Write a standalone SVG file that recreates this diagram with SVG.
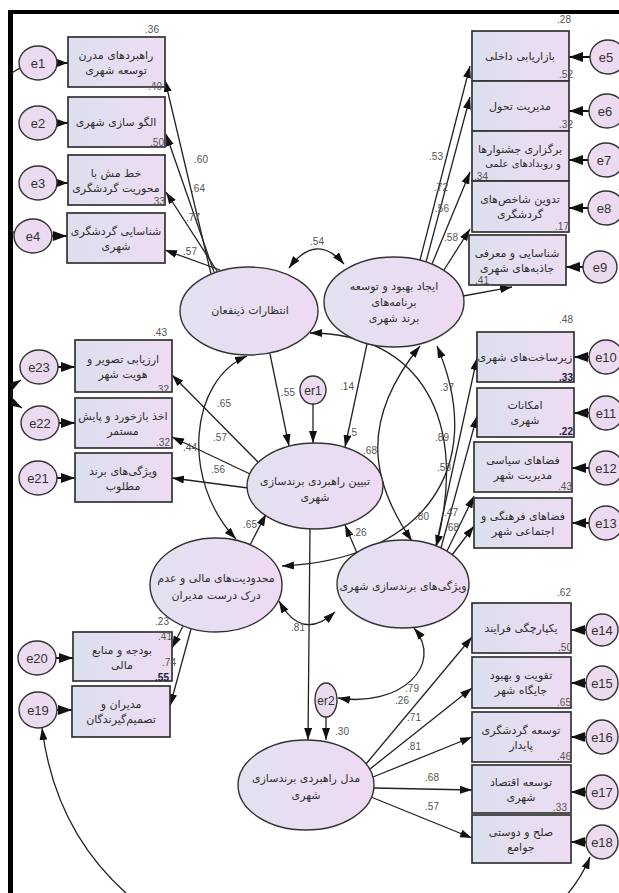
<svg xmlns="http://www.w3.org/2000/svg" width="619" height="893" viewBox="0 0 619 893">
<defs>
<linearGradient id="gb" x1="0" y1="0" x2="1" y2="0"><stop offset="0" stop-color="#dcdfee"/><stop offset="1" stop-color="#eedcf2"/></linearGradient>
<linearGradient id="ge" x1="0" y1="0" x2="1" y2="0"><stop offset="0" stop-color="#e3e1f0"/><stop offset="1" stop-color="#eedaf3"/></linearGradient>
<marker id="ah" viewBox="0 0 12 8" refX="12" refY="4" markerWidth="12" markerHeight="8" markerUnits="userSpaceOnUse" orient="auto-start-reverse"><path d="M0,0 L12,4 L0,8 z" fill="#111"/></marker>
<marker id="ah2" viewBox="0 0 14 10" refX="14" refY="5" markerWidth="14" markerHeight="10" markerUnits="userSpaceOnUse" orient="auto"><path d="M0,0 L14,5 L0,10 z" fill="#111"/></marker>
<style>
.box{fill:url(#gb);stroke:#333;stroke-width:1.7}
.lat{fill:url(#ge);stroke:#333;stroke-width:1.4}
.err{fill:#ebdaf0;stroke:#333;stroke-width:1.4}
.fa{font-family:"DejaVu Sans",sans-serif;font-size:11px;fill:#2e2e2e;text-anchor:middle}
.et{font-family:"Liberation Sans",Arial,sans-serif;font-size:13px;fill:#333;text-anchor:middle}
.num{font-family:"Liberation Sans",Arial,sans-serif;font-size:10px;fill:#555;text-anchor:middle}
.nb{font-family:"Liberation Sans",Arial,sans-serif;font-size:10px;fill:#1a1a40;font-weight:bold;text-anchor:middle}
.c{fill:none;stroke:#222;stroke-width:1.3}
.a{fill:none;stroke:#222;stroke-width:1.3;marker-end:url(#ah)}
.ea{fill:none;stroke:#111;stroke-width:2;marker-end:url(#ah2)}
.d{fill:none;stroke:#222;stroke-width:1.3;marker-start:url(#ah);marker-end:url(#ah)}
</style>
</defs>
<rect x="0" y="0" width="619" height="893" fill="#fff"/>
<g id="frame">
<line x1="8" y1="12" x2="619" y2="12" stroke="#000" stroke-width="4"/>
<line x1="10.5" y1="10" x2="10.5" y2="893" stroke="#000" stroke-width="5"/>
</g>
<g id="connectors">
<path class="a" d="M211,274 L165,80"/>
<path class="a" d="M214,272 L166,134"/>
<path class="a" d="M217,271 L166,192"/>
<path class="a" d="M220,270 L165,250"/>
<path class="a" d="M420,260 L470,66"/>
<path class="a" d="M426,262 L470,97"/>
<path class="a" d="M432,264 L470,172"/>
<path class="a" d="M444,270 L470,229"/>
<path class="a" d="M463,296 L512,287"/>
<path class="a" d="M436,546 L477,358"/>
<path class="a" d="M441,548 L477,416"/>
<path class="a" d="M447,551 L474,496"/>
<path class="a" d="M452,555 L474,526"/>
<path class="a" d="M270,354 L289,446"/>
<path class="a" d="M313,404 L313,443"/>
<path class="a" d="M367,344 L345,447"/>
<path class="a" d="M258,462 L172,375"/>
<path class="a" d="M250,474 L172,437"/>
<path class="a" d="M248,488 L172,478"/>
<path class="a" d="M250,545 L266,514"/>
<path class="a" d="M357,553 L345,525"/>
<path class="a" d="M183,626 L172,648"/>
<path class="a" d="M191,629 L170,706"/>
<path class="a" d="M310,529 L308,740"/>
<path class="a" d="M326,717 L326,740"/>
<path class="a" d="M366,764 L472,637"/>
<path class="a" d="M370,769 L472,688"/>
<path class="a" d="M373,777 L472,737"/>
<path class="a" d="M374,788 L472,790"/>
<path class="a" d="M371,797 L472,838"/>
<path class="d" d="M289,268 Q316,232 344,264"/>
<path class="d" d="M247,356 C190,380 180,480 236,539"/>
<path class="d" d="M310,333 C420,333 470,420 436,547"/>
<path class="d" d="M420,346 C360,420 370,480 412,541"/>
<path class="d" d="M437,346 C490,470 420,560 282,566"/>
<path class="d" d="M279,601 Q302,642 335,612"/>
<path class="d" d="M414,628 C445,665 400,708 338,698"/>
<path class="d" d="M42,728 C80,1030 520,1030 590,857"/>
<path class="d" d="M21,380 C8,388 8,400 22,408"/>
<path class="c" d="M10,74 L20,68"/>
<path class="c" d="M10,230 L15,233"/>
<path class="c" d="M619,190 L621,188"/>
<path class="ea" d="M56,63 L68,63"/>
<path class="ea" d="M56,123 L68,123"/>
<path class="ea" d="M56,183 L68,183"/>
<path class="ea" d="M51,236 L67,236"/>
<path class="ea" d="M57,367 L75,367"/>
<path class="ea" d="M58,423 L75,423"/>
<path class="ea" d="M56,478 L75,478"/>
<path class="ea" d="M55,658 L73,658"/>
<path class="ea" d="M56,710 L72,710"/>
<path class="ea" d="M591,57 L569,57"/>
<path class="ea" d="M590,111 L569,111"/>
<path class="ea" d="M589,160 L569,160"/>
<path class="ea" d="M589,208 L569,208"/>
<path class="ea" d="M584,267 L566,267"/>
<path class="ea" d="M590,357 L574,357"/>
<path class="ea" d="M590,413 L574,413"/>
<path class="ea" d="M590,468 L572,468"/>
<path class="ea" d="M590,523 L572,523"/>
<path class="ea" d="M587,630 L571,630"/>
<path class="ea" d="M587,683 L571,683"/>
<path class="ea" d="M587,737 L571,737"/>
<path class="ea" d="M587,792 L571,792"/>
<path class="ea" d="M587,842 L571,842"/>
</g>
<g id="B1"><rect class="box" x="68" y="37" width="97" height="50"/><text class="fa" x="116" y="59">راهبردهای مدرن</text><text class="fa" x="116" y="74">توسعه شهری</text></g>
<g id="B2"><rect class="box" x="68" y="97" width="97" height="50"/><text class="fa" x="116" y="126">الگو سازی شهری</text></g>
<g id="B3"><rect class="box" x="68" y="155" width="97" height="50"/><text class="fa" x="116" y="177">خط مش با</text><text class="fa" x="116" y="192">محوریت گردشگری</text></g>
<g id="B4"><rect class="box" x="67" y="213" width="98" height="50"/><text class="fa" x="116" y="235">شناسایی گردشگری</text><text class="fa" x="116" y="250">شهری</text></g>
<g id="B23"><rect class="box" x="75" y="340" width="97" height="52"/><text class="fa" x="123" y="363">ارزیابی تصویر و</text><text class="fa" x="123" y="378">هویت شهر</text></g>
<g id="B22"><rect class="box" x="75" y="398" width="97" height="50"/><text class="fa" x="123" y="420">اخذ بازخورد و پایش</text><text class="fa" x="123" y="435">مستمر</text></g>
<g id="B21"><rect class="box" x="75" y="453" width="97" height="49"/><text class="fa" x="123" y="475">ویژگی‌های برند</text><text class="fa" x="123" y="490">مطلوب</text></g>
<g id="B20"><rect class="box" x="73" y="632" width="99" height="49"/><text class="fa" x="122" y="654">بودجه و منابع</text><text class="fa" x="122" y="669">مالی</text></g>
<g id="B19"><rect class="box" x="72" y="686" width="98" height="51"/><text class="fa" x="121" y="708">مدیران و</text><text class="fa" x="121" y="723">تصمیم‌گیرندگان</text></g>
<g id="B5"><rect class="box" x="472" y="31" width="97" height="50"/><text class="fa" x="520" y="60">بازاریابی داخلی</text></g>
<g id="B6"><rect class="box" x="472" y="81" width="97" height="50"/><text class="fa" x="520" y="110">مدیریت تحول</text></g>
<g id="B7"><rect class="box" x="472" y="131" width="97" height="50"/><text class="fa" x="520" y="153">برگزاری جشنوارها</text><text class="fa" x="523" y="167" style="font-size:10px">و رویدادهای علمی</text></g>
<g id="B8"><rect class="box" x="472" y="181" width="97" height="51"/><text class="fa" x="520" y="203">تدوین شاخص‌های</text><text class="fa" x="520" y="218">گردشگری</text></g>
<g id="B9"><rect class="box" x="469" y="235" width="97" height="50"/><text class="fa" x="517" y="257">شناسایی و معرفی</text><text class="fa" x="517" y="272">جاذبه‌های شهری</text></g>
<g id="B10"><rect class="box" x="477" y="332" width="97" height="50"/><text class="fa" x="525" y="361">زیرساخت‌های شهری</text></g>
<g id="B11"><rect class="box" x="477" y="388" width="97" height="49"/><text class="fa" x="525" y="409">امکانات</text><text class="fa" x="525" y="424">شهری</text></g>
<g id="B12"><rect class="box" x="474" y="442" width="98" height="50"/><text class="fa" x="523" y="464">فضاهای سیاسی</text><text class="fa" x="523" y="479">مدیریت شهر</text></g>
<g id="B13"><rect class="box" x="474" y="498" width="98" height="50"/><text class="fa" x="523" y="520">فضاهای فرهنگی و</text><text class="fa" x="523" y="535">اجتماعی شهر</text></g>
<g id="B14"><rect class="box" x="472" y="603" width="99" height="50"/><text class="fa" x="521" y="632">یکپارچگی فرایند</text></g>
<g id="B15"><rect class="box" x="472" y="657" width="99" height="51"/><text class="fa" x="521" y="679">تقویت و بهبود</text><text class="fa" x="521" y="694">جایگاه شهر</text></g>
<g id="B16"><rect class="box" x="472" y="712" width="99" height="50"/><text class="fa" x="521" y="734">توسعه گردشگری</text><text class="fa" x="521" y="749">پایدار</text></g>
<g id="B17"><rect class="box" x="472" y="765" width="99" height="48"/><text class="fa" x="521" y="786">توسعه اقتصاد</text><text class="fa" x="521" y="801">شهری</text></g>
<g id="B18"><rect class="box" x="472" y="815" width="99" height="48"/><text class="fa" x="521" y="836">صلح و دوستی</text><text class="fa" x="521" y="851">جوامع</text></g>
<g id="E1"><ellipse class="lat" cx="249" cy="311" rx="69" ry="44"/><text class="fa" x="250" y="314">انتظارات ذینفعان</text></g>
<g id="E2"><ellipse class="lat" cx="394" cy="302" rx="70" ry="45"/><text class="fa" x="394" y="290">ایجاد بهبود و توسعه</text><text class="fa" x="394" y="306">برنامه‌های</text><text class="fa" x="394" y="322">برند شهری</text></g>
<g id="C"><ellipse class="lat" cx="315" cy="486" rx="68" ry="43"/><text class="fa" x="315" y="485">تبیین راهبردی برندسازی</text><text class="fa" x="315" y="501">شهری</text></g>
<g id="E3"><ellipse class="lat" cx="216" cy="585" rx="66" ry="47"/><text class="fa" x="216" y="582">محدودیت‌های مالی و عدم</text><text class="fa" x="216" y="599">درک درست مدیران</text></g>
<g id="E4"><ellipse class="lat" cx="403" cy="584" rx="66" ry="44"/><text class="fa" x="403" y="590">ویژگی‌های برندسازی شهری</text></g>
<g id="M"><ellipse class="lat" cx="306" cy="785" rx="68" ry="45"/><text class="fa" x="306" y="782">مدل راهبردی برندسازی</text><text class="fa" x="306" y="799">شهری</text></g>
<g id="er1"><ellipse class="err" cx="313" cy="390" rx="13" ry="14"/><text class="et" x="313" y="395" style="font-size:12px">er1</text></g>
<g id="er2"><ellipse class="err" cx="326" cy="700" rx="11" ry="17"/><text class="et" x="326" y="705" style="font-size:12px">er2</text></g>
<g id="e1"><ellipse class="err" cx="38" cy="63" rx="19" ry="17"/><text class="et" x="38" y="68">e1</text></g>
<g id="e2"><ellipse class="err" cx="38" cy="123" rx="19" ry="17"/><text class="et" x="38" y="128">e2</text></g>
<g id="e3"><ellipse class="err" cx="38" cy="183" rx="19" ry="17"/><text class="et" x="38" y="188">e3</text></g>
<g id="e4"><ellipse class="err" cx="33" cy="236" rx="19" ry="17"/><text class="et" x="33" y="241">e4</text></g>
<g id="e23"><ellipse class="err" cx="39" cy="367" rx="19" ry="17"/><text class="et" x="39" y="372">e23</text></g>
<g id="e22"><ellipse class="err" cx="40" cy="423" rx="19" ry="17"/><text class="et" x="40" y="428">e22</text></g>
<g id="e21"><ellipse class="err" cx="38" cy="478" rx="19" ry="17"/><text class="et" x="38" y="483">e21</text></g>
<g id="e20"><ellipse class="err" cx="37" cy="658" rx="19" ry="17"/><text class="et" x="37" y="663">e20</text></g>
<g id="e19"><ellipse class="err" cx="38" cy="710" rx="19" ry="18"/><text class="et" x="38" y="715">e19</text></g>
<g id="e5"><ellipse class="err" cx="608" cy="57" rx="18" ry="17"/><text class="et" x="606" y="62">e5</text></g>
<g id="e6"><ellipse class="err" cx="607" cy="111" rx="18" ry="17"/><text class="et" x="605" y="116">e6</text></g>
<g id="e7"><ellipse class="err" cx="606" cy="160" rx="18" ry="17"/><text class="et" x="604" y="165">e7</text></g>
<g id="e8"><ellipse class="err" cx="606" cy="208" rx="18" ry="17"/><text class="et" x="604" y="213">e8</text></g>
<g id="e9"><ellipse class="err" cx="600" cy="267" rx="17" ry="16"/><text class="et" x="600" y="272">e9</text></g>
<g id="e10"><ellipse class="err" cx="606" cy="357" rx="17" ry="17"/><text class="et" x="606" y="362">e10</text></g>
<g id="e11"><ellipse class="err" cx="606" cy="413" rx="17" ry="17"/><text class="et" x="606" y="418">e11</text></g>
<g id="e12"><ellipse class="err" cx="606" cy="468" rx="17" ry="17"/><text class="et" x="606" y="473">e12</text></g>
<g id="e13"><ellipse class="err" cx="606" cy="523" rx="17" ry="17"/><text class="et" x="606" y="528">e13</text></g>
<g id="e14"><ellipse class="err" cx="602" cy="630" rx="16" ry="16"/><text class="et" x="602" y="635">e14</text></g>
<g id="e15"><ellipse class="err" cx="602" cy="683" rx="16" ry="17"/><text class="et" x="602" y="688">e15</text></g>
<g id="e16"><ellipse class="err" cx="602" cy="737" rx="16" ry="17"/><text class="et" x="602" y="742">e16</text></g>
<g id="e17"><ellipse class="err" cx="602" cy="792" rx="16" ry="17"/><text class="et" x="602" y="797">e17</text></g>
<g id="e18"><ellipse class="err" cx="602" cy="842" rx="16" ry="17"/><text class="et" x="602" y="847">e18</text></g>
<g id="labels">
<text class="num" x="201" y="163">.60</text>
<text class="num" x="198" y="192">.64</text>
<text class="num" x="193" y="221">.77</text>
<text class="num" x="190" y="255">.57</text>
<text class="num" x="436" y="160">.53</text>
<text class="num" x="441" y="191">.72</text>
<text class="num" x="442" y="212">.56</text>
<text class="num" x="451" y="241">.58</text>
<text class="num" x="447" y="391">.37</text>
<text class="num" x="442" y="441">.89</text>
<text class="num" x="444" y="471">.58</text>
<text class="num" x="451" y="516">.47</text>
<text class="num" x="452" y="531">.68</text>
<text class="num" x="422" y="520">.80</text>
<text class="num" x="370" y="454">.68</text>
<text class="num" x="317" y="245">.54</text>
<text class="num" x="288" y="396">.55</text>
<text class="num" x="347" y="390">.14</text>
<text class="num" x="353" y="436">.5</text>
<text class="num" x="224" y="407">.65</text>
<text class="num" x="220" y="441">.57</text>
<text class="num" x="190" y="451">.44</text>
<text class="num" x="218" y="473">.56</text>
<text class="num" x="250" y="528">.65</text>
<text class="num" x="358" y="536">-.26</text>
<text class="num" x="298" y="631">.81</text>
<text class="num" x="342" y="735">.30</text>
<text class="num" x="412" y="692">.79</text>
<text class="num" x="402" y="704">.26</text>
<text class="num" x="414" y="721">.71</text>
<text class="num" x="414" y="750">.81</text>
<text class="num" x="432" y="781">.68</text>
<text class="num" x="432" y="810">.57</text>
<text class="num" x="162" y="625">.23</text>
<text class="num" x="165" y="640">.41</text>
<text class="num" x="169" y="666">.74</text>
<text class="num" x="152" y="33">.36</text>
<text class="num" x="155" y="90">.40</text>
<text class="num" x="157" y="146">.50</text>
<text class="num" x="158" y="205">.33</text>
<text class="num" x="160" y="336">.43</text>
<text class="num" x="162" y="393">.32</text>
<text class="num" x="163" y="446">.32</text>
<text class="nb" x="162" y="681">.55</text>
<text class="num" x="564" y="23">.28</text>
<text class="num" x="566" y="78">.52</text>
<text class="num" x="566" y="128">.32</text>
<text class="num" x="481" y="180">.34</text>
<text class="num" x="562" y="230">.17</text>
<text class="num" x="482" y="284">.41</text>
<text class="num" x="566" y="323">.48</text>
<text class="nb" x="566" y="381">.33</text>
<text class="nb" x="566" y="435">.22</text>
<text class="num" x="565" y="490">.43</text>
<text class="num" x="564" y="596">.62</text>
<text class="num" x="565" y="651">.50</text>
<text class="num" x="564" y="706">.65</text>
<text class="num" x="564" y="760">.46</text>
<text class="num" x="560" y="811">.33</text>
</g>
</svg>
